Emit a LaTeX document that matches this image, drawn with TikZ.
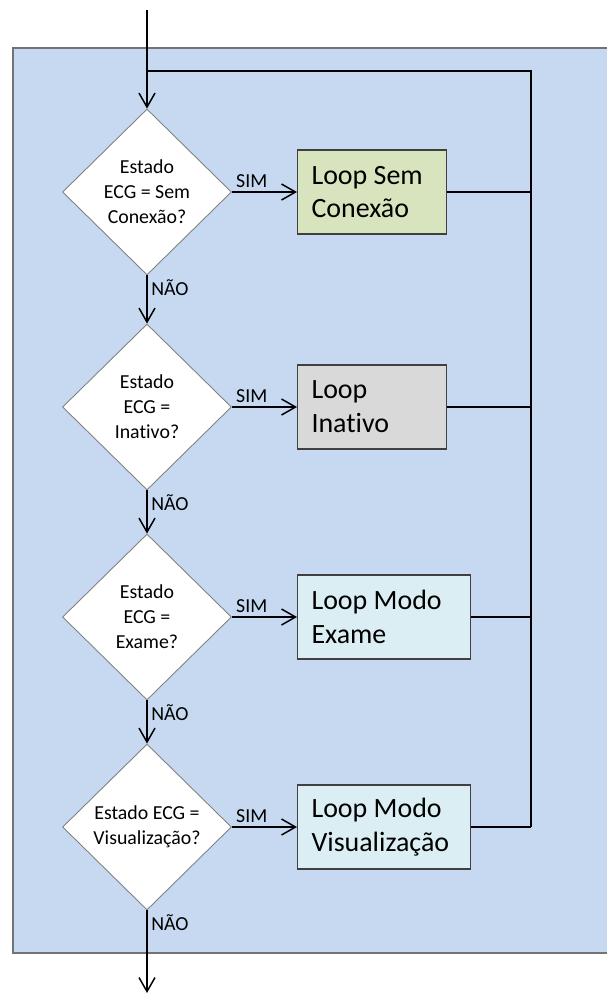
\documentclass[tikz,border=0pt]{standalone}
\usepackage{fontspec}
\setmainfont{Carlito}[Ligatures=NoCommon]
\usetikzlibrary{shapes.geometric,arrows.meta}
\definecolor{fundo}{HTML}{C6D9F1}
\definecolor{verdeclaro}{HTML}{D7E4BD}
\definecolor{cinzaclaro}{HTML}{D9D9D9}
\definecolor{azulclaro}{HTML}{DBEEF4}
\definecolor{bordacaixa}{HTML}{404040}

\begin{document}
\begin{tikzpicture}[x=0.02cm, y=-0.02cm,
  decisao/.style={diamond, draw=black!50, line width=0.5pt, fill=white, inner sep=0pt,
    minimum width=3.38cm, minimum height=3.32cm, align=center,
    font=\fontsize{11.3}{14.2}\selectfont},
  laco/.style={rectangle, draw=bordacaixa, line width=0.6pt, minimum height=1.68cm,
    inner xsep=0.28cm, inner ysep=0pt, align=flush left, anchor=west,
    font=\fontsize{15.9}{19.3}\selectfont},
  seta/.style={-{Straight Barb[length=0.28cm,width=0.32cm]}, line width=0.85pt},
  liga/.style={line width=1.1pt},
  rotulo/.style={font=\fontsize{11.3}{13}\selectfont, inner sep=2pt}]
  \useasboundingbox (0,0) rectangle (606,994);
  \filldraw[fill=fundo, draw=black!55, line width=0.6pt] (13,48) rectangle (612,953);

  \coordinate (entrada) at (147,10);
  \coordinate (saida)   at (147,993);
  \coordinate (juncao)  at (147,71);
  \coordinate (retorno) at (531,71);

  % decisoes
  \node[decisao] (d1) at (147,192) {Estado\\ECG = Sem\\Conexão?};
  \node[decisao] (d2) at (147,407) {Estado\\ECG =\\Inativo?};
  \node[decisao] (d3) at (147,617) {Estado\\ECG =\\Exame?};
  \node[decisao] (d4) at (147,827) {Estado ECG =\\Visualização?};

  % lacos
  \node[laco, fill=verdeclaro, text width=2.42cm] (l1) at (297,192) {Loop Sem\\Conexão};
  \node[laco, fill=cinzaclaro, text width=2.42cm] (l2) at (297,407) {Loop\\Inativo};
  \node[laco, fill=azulclaro,  text width=2.90cm] (l3) at (297,617) {Loop Modo\\Exame};
  \node[laco, fill=azulclaro,  text width=2.90cm] (l4) at (297,827) {Loop Modo\\Visualização};

  \draw[seta] (entrada) -- (d1.north);
  \foreach \i/\j in {1/2,2/3,3/4}
    \draw[seta] (d\i.south) -- node[rotulo, pos=0, anchor=north west] {NÃO} (d\j.north);
  \draw[seta] (d4.south) -- node[rotulo, pos=0, anchor=north west] {NÃO} (saida);

  \foreach \i in {1,...,4} {
    \draw[seta] (d\i.east) -- node[rotulo, pos=0, anchor=south west] {SIM} (l\i.west);
    \draw[liga] (l\i.east) -- (l\i.east -| retorno);
  }
  \draw[line width=1.7pt] (juncao) -- (retorno) -- (retorno |- l4.east);
\end{tikzpicture}
\end{document}
